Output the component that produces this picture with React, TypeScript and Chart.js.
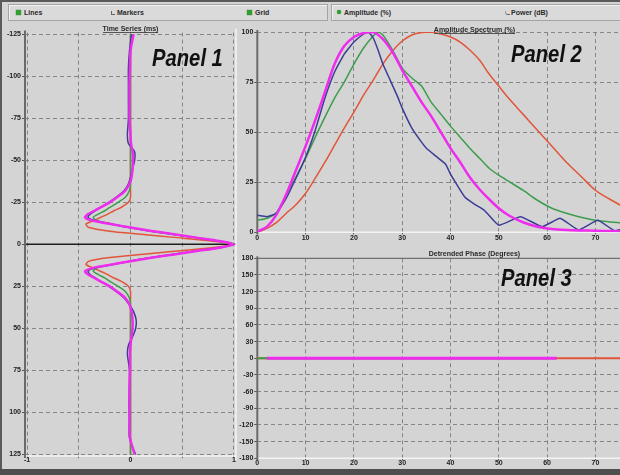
import React, { useEffect, useRef } from 'react';
import { Chart, registerables } from 'chart.js';

Chart.register(...registerables);

// ---------- Panel 1: time series (ms) ----------
const TIME_MS = [-125, -115, -105, -95, -85, -75, -70, -65, -60, -55, -50, -45, -40, -36, -32, -28, -25, -22, -20, -18, -16, -14, -12, -10, -8, -6, -4, -2, 0,
  2, 4, 6, 8, 10, 12, 14, 16, 18, 20, 22, 25, 28, 32, 36, 40, 45, 50, 55, 60, 65, 70, 75, 85, 95, 105, 115, 125];
const TS_MAGENTA = [0.03, 0.0, -0.005, -0.01, -0.01, -0.01, -0.005, 0.0, 0.005, 0.02, 0.025, 0.02, 0.01, -0.01, -0.05, -0.13, -0.2, -0.29, -0.35, -0.41, -0.44, -0.36, -0.18, 0.0, 0.2, 0.42, 0.64, 0.86, 1.0,
  0.86, 0.64, 0.42, 0.2, 0.0, -0.18, -0.36, -0.44, -0.41, -0.35, -0.29, -0.2, -0.13, -0.05, -0.01, 0.01, 0.02, 0.02, 0.01, 0.0, -0.005, -0.005, -0.005, -0.01, -0.01, -0.01, -0.005, 0.04];
const TS_BLUE = [0.01, -0.01, -0.02, -0.02, -0.02, -0.02, -0.025, -0.03, -0.02, 0.04, 0.04, 0.02, 0.0, -0.02, -0.06, -0.14, -0.21, -0.29, -0.34, -0.39, -0.41, -0.34, -0.18, -0.01, 0.19, 0.41, 0.63, 0.85, 1.0,
  0.85, 0.63, 0.41, 0.19, -0.01, -0.18, -0.34, -0.41, -0.39, -0.34, -0.29, -0.21, -0.14, -0.06, -0.01, 0.03, 0.055, 0.05, 0.02, -0.02, -0.03, -0.02, -0.01, -0.01, -0.015, -0.01, -0.01, 0.05];
const TS_GREEN = [0, 0, 0, 0, 0, 0, 0, 0, 0, 0, 0, 0, 0, 0, -0.01, -0.05, -0.12, -0.2, -0.25, -0.31, -0.36, -0.32, -0.17, -0.01, 0.18, 0.4, 0.63, 0.86, 1.0,
  0.86, 0.63, 0.4, 0.18, -0.01, -0.17, -0.32, -0.36, -0.31, -0.25, -0.2, -0.12, -0.05, -0.01, 0, 0, 0, 0, 0, 0, 0, 0, 0, 0, 0, 0, 0, 0];
const TS_RED = [0, 0, 0, 0, 0, 0, 0, 0, 0, 0, 0, 0, 0, 0, 0, 0, -0.02, -0.09, -0.16, -0.22, -0.29, -0.36, -0.43, -0.4, -0.22, 0.1, 0.45, 0.78, 1.0,
  0.78, 0.45, 0.1, -0.22, -0.4, -0.43, -0.36, -0.29, -0.22, -0.16, -0.09, -0.02, 0, 0, 0, 0, 0, 0, 0, 0, 0, 0, 0, 0, 0, 0, 0, 0];
const X1_TICKS = [-1, -0.5, 0, 0.5, 1];
const X1_LABELS = ['-1', '', '0', '', '1'];
const Y1_TICKS = [-125, -100, -75, -50, -25, 0, 25, 50, 75, 100, 125];
const Y1_LABELS = ['-125', '-100', '-75', '-50', '-25', '0', '25', '50', '75', '100', '125'];

// ---------- Panel 2: amplitude spectrum (%) ----------
const FREQ = [0, 2, 4, 6, 8, 10, 12, 14, 16, 18, 20, 22, 24, 26, 28, 30, 32, 34, 36, 38, 40, 42, 44, 46, 48, 50, 52, 55, 58, 61, 64, 67, 70, 73, 76, 80, 85, 90];
const AMP_MAGENTA = [0.3, 2.8, 9, 19, 31, 43, 56, 70, 84, 93, 97.5, 99.5, 100, 96.5, 90, 81, 73, 65, 58, 50, 42, 35, 27.5, 21.5, 16.5, 12, 8.5, 5, 2.8, 1.6, 1.1, 0.9, 0.8, 0.6, 0.5, 0.3, 0.2, 0.2];
const FREQ_GREEN = [0, 2, 4, 6, 8, 10, 12, 14, 16, 18, 20, 22, 24, 25, 26, 28, 30, 32, 34, 36, 38, 40, 42, 44, 46, 48, 50, 52, 55, 58, 61, 64, 67, 70, 73, 76, 80, 85, 90];
const AMP_GREEN = [6, 7, 10, 18.5, 27.5, 37, 47.5, 57.5, 67, 75, 84, 92, 98, 100, 98.5, 91, 82, 77, 73, 65, 59, 53, 47.5, 42, 37, 32, 28.5, 25.5, 21, 16, 12, 9.5, 7.5, 6, 5.2, 4.5, 3.5, 2.7, 2];
const AMP_RED = [0, 2, 5, 9.5, 13.8, 19.5, 27, 35, 43.5, 52, 60, 68.5, 76, 84, 90.5, 95.5, 98.5, 99.8, 100, 99, 97.5, 95, 91, 86, 79, 73, 67, 59, 51, 43, 35, 28, 21, 16.5, 12.5, 8, 5, 3];
const FREQ_BLUE = [0, 2, 4, 6, 8, 10, 12, 14, 16, 18, 20, 22, 23, 24, 25, 26, 27.5, 29, 30, 32, 34, 35, 37, 39, 40, 41, 43, 45, 47, 50, 54.5, 59, 62.7, 66.5, 70.5, 74, 78, 82, 86, 90];
const AMP_BLUE = [8.5, 7.8, 9.5, 17, 27, 37.5, 51, 67, 80, 89, 95, 99, 100, 97, 91, 84, 76, 68, 62, 52, 45, 42, 38, 34, 29, 25, 17.5, 14, 11, 3.5, 7.8, 2.8, 7, 1.2, 6, 0.8, 3, 1, 2.5, 1];
const X2_TICKS = [0, 10, 20, 30, 40, 50, 60, 70, 80, 90];
const X2_LABELS = ['0', '10', '20', '30', '40', '50', '60', '70', '80', '90'];
const Y2_TICKS = [0, 25, 50, 75, 100];
const Y2_LABELS = ['0', '25', '50', '75', '100'];

// ---------- Panel 3: detrended phase (degrees) ----------
const PH_FREQ_MAGENTA = [2, 62];
const PH_MAGENTA = [0, 0];
const PH_FREQ_BLUE = [2, 60];
const PH_BLUE = [0, 0];
const PH_FREQ_GREEN = [0, 60];
const PH_GREEN = [0, 0];
const PH_FREQ_RED = [0, 90];
const PH_RED = [0, 0];
const Y3_TICKS = [-180, -150, -120, -90, -60, -30, 0, 30, 60, 90, 120, 150, 180];
const Y3_LABELS = ['-180', '-150', '-120', '-90', '-60', '-30', '0', '30', '60', '90', '120', '150', '180'];

const C_MAGENTA = '#ee2cee';
const C_BLUE = '#3c3c96';
const C_GREEN = '#3d9d4d';
const C_RED = '#e2553a';
const GRID = '#858585';
const FONT = 'Liberation Sans, Arial, sans-serif';

function pts(xs: number[], ys: number[]) {
  return xs.map((x, i) => ({ x, y: ys[i] }));
}

function framePlugin(opts: any) {
  return {
    id: 'frame',
    beforeDatasetsDraw(chart: any) {
      const { ctx, chartArea: a } = chart;
      const line = (x1: number, y1: number, x2: number, y2: number, c: string, w: number) => {
        ctx.save();
        ctx.strokeStyle = c;
        ctx.lineWidth = w;
        ctx.setLineDash([]);
        ctx.beginPath();
        ctx.moveTo(x1, y1);
        ctx.lineTo(x2, y2);
        ctx.stroke();
        ctx.restore();
      };
      if (opts.zeroY !== undefined) {
        const y = chart.scales.y.getPixelForValue(opts.zeroY);
        line(a.left, y, a.right, y, '#1e1e1e', 1.5);
      }
      if (opts.top) line(a.left, a.top, a.right, a.top, opts.top, 1.2);
      if (opts.bottom) line(a.left, a.bottom, a.right, a.bottom, opts.bottom, 1.5);
      if (opts.right) line(a.right, a.top - 4, a.right, a.bottom + 4, opts.right, 1.5);
      if (opts.left) line(a.left, a.top - 2, a.left, a.bottom + 2, opts.left, 2);
    },
  };
}

function makeChart(canvas: HTMLCanvasElement, p: any) {
  const font = { family: FONT, size: 7, weight: 'bold' as const };
  return new Chart(canvas, {
    type: 'scatter',
    data: { datasets: p.datasets },
    plugins: [framePlugin(p.frame)],
    options: {
      animation: false,
      responsive: false,
      events: [],
      layout: { padding: { top: p.padTop, right: p.padRight, left: 0, bottom: 0 } },
      plugins: { legend: { display: false }, tooltip: { enabled: false }, title: { display: false } },
      elements: { point: { radius: 0 } },
      scales: {
        x: {
          type: 'linear',
          min: p.xMin,
          max: p.xMax,
          afterBuildTicks: (s: any) => { s.ticks = p.xTicks.map((v: number) => ({ value: v })); },
          afterFit: (s: any) => { s.height = p.xAxisH; },
          ticks: {
            autoSkip: false,
            maxRotation: 0,
            padding: p.xPad,
            font,
            color: '#222',
            callback: (_v: any, i: number) => p.xLabels[i],
          },
          grid: { color: GRID, lineWidth: 1, tickLength: 2, tickColor: '#555', drawTicks: true },
          border: { display: false, dash: [4, 3] },
        },
        y: {
          type: 'linear',
          min: p.yMin,
          max: p.yMax,
          reverse: !!p.reverseY,
          afterBuildTicks: (s: any) => { s.ticks = p.yTicks.map((v: number) => ({ value: v })); },
          afterFit: (s: any) => { s.width = p.yAxisW; },
          ticks: {
            autoSkip: false,
            padding: 1,
            font,
            color: '#222',
            callback: (_v: any, i: number) => p.yLabels[i],
          },
          grid: { color: GRID, lineWidth: 1, tickLength: 3, tickColor: '#555', drawTicks: true },
          border: { display: false, dash: [4, 3] },
        },
      },
    } as any,
  });
}

function ds(data: any[], color: string, width: number, tension: number) {
  return { data, borderColor: color, backgroundColor: color, borderWidth: width, showLine: true, pointRadius: 0, tension, fill: false };
}

const txt: React.CSSProperties = { position: 'absolute', fontFamily: FONT, fontSize: 7, fontWeight: 'bold', color: '#2a2a2a', lineHeight: '9px', whiteSpace: 'nowrap' };
const panelTxt: React.CSSProperties = { position: 'absolute', fontFamily: FONT, fontSize: 23, fontWeight: 'bold', fontStyle: 'italic', color: '#111', lineHeight: '23px', transform: 'scaleX(0.88)', transformOrigin: 'left top', whiteSpace: 'nowrap' };

export default function App() {
  const c1 = useRef<HTMLCanvasElement>(null);
  const c2 = useRef<HTMLCanvasElement>(null);
  const c3 = useRef<HTMLCanvasElement>(null);

  useEffect(() => {
    const charts: Chart[] = [];
    charts.push(makeChart(c1.current!, {
      datasets: [
        ds(pts(TS_MAGENTA, TIME_MS), C_MAGENTA, 2.5, 0.3),
        ds(pts(TS_BLUE, TIME_MS), C_BLUE, 1.5, 0.3),
        ds(pts(TS_GREEN, TIME_MS), C_GREEN, 1.5, 0.3),
        ds(pts(TS_RED, TIME_MS), C_RED, 1.5, 0.3),
      ],
      xMin: -1.02, xMax: 1.02, yMin: -126, yMax: 126, reverseY: true,
      xTicks: X1_TICKS, xLabels: X1_LABELS, yTicks: Y1_TICKS, yLabels: Y1_LABELS,
      yAxisW: 25, xAxisH: 11.9, padTop: 8.6, padRight: 4, xPad: -2,
      frame: { zeroY: 0, left: '#6a6a6a', bottom: '#f4f4f4', right: '#f4f4f4' },
    }));
    charts.push(makeChart(c2.current!, {
      datasets: [
        ds(pts(FREQ, AMP_MAGENTA), C_MAGENTA, 2.5, 0.3),
        ds(pts(FREQ_BLUE, AMP_BLUE), C_BLUE, 1.5, 0.12),
        ds(pts(FREQ_GREEN, AMP_GREEN), C_GREEN, 1.5, 0.25),
        ds(pts(FREQ, AMP_RED), C_RED, 1.5, 0.35),
      ],
      xMin: 0, xMax: 90, yMin: 0, yMax: 100,
      xTicks: X2_TICKS, xLabels: X2_LABELS, yTicks: Y2_TICKS, yLabels: Y2_LABELS,
      yAxisW: 19.3, xAxisH: 13.7, padTop: 8, padRight: 8, xPad: 0,
      frame: { left: '#6a6a6a', bottom: '#f4f4f4' },
    }));
    charts.push(makeChart(c3.current!, {
      datasets: [
        ds(pts(PH_FREQ_MAGENTA, PH_MAGENTA), C_MAGENTA, 3, 0),
        ds(pts(PH_FREQ_BLUE, PH_BLUE), C_BLUE, 1.5, 0),
        ds(pts(PH_FREQ_GREEN, PH_GREEN), C_GREEN, 2, 0),
        ds(pts(PH_FREQ_RED, PH_RED), C_RED, 2, 0),
      ],
      xMin: 0, xMax: 90, yMin: -180, yMax: 180,
      xTicks: X2_TICKS, xLabels: X2_LABELS, yTicks: Y3_TICKS, yLabels: Y3_LABELS,
      yAxisW: 19.3, xAxisH: 9.7, padTop: 12.3, padRight: 8, xPad: -1,
      frame: { left: '#6a6a6a', bottom: '#f4f4f4', top: '#707070' },
    }));
    return () => charts.forEach((c) => c.destroy());
  }, []);

  const box: React.CSSProperties = { position: 'absolute', top: 4, height: 17, boxSizing: 'border-box', border: '1px solid #a4a4a4', background: '#dadada', boxShadow: 'inset 1px 1px 0 #f2f2f2' };
  const greenBox: React.CSSProperties = { position: 'absolute', width: 5, height: 5, background: '#2f9f2f', boxShadow: '0 0 1px #1a6a1a' };

  return (
    <div style={{ position: 'fixed', left: 0, top: 0, width: 620, height: 475, overflow: 'hidden', background: '#d4d4d4' }}>
      {/* toolbar */}
      <div style={{ ...box, left: 8, width: 320 }} />
      <div style={{ ...box, left: 331, width: 300 }} />
      <div style={{ ...greenBox, left: 16, top: 10 }} />
      <div style={{ ...txt, left: 24, top: 8 }}>Lines</div>
      <div style={{ position: 'absolute', left: 111, top: 11, width: 3, height: 3, borderLeft: '1px solid #666', borderBottom: '1px solid #666' }} />
      <div style={{ ...txt, left: 117, top: 8 }}>Markers</div>
      <div style={{ ...greenBox, left: 247, top: 10 }} />
      <div style={{ ...txt, left: 255, top: 8 }}>Grid</div>
      <div style={{ ...greenBox, left: 337, top: 10, width: 4, height: 4, borderRadius: 2 }} />
      <div style={{ ...txt, left: 344, top: 8 }}>Amplitude (%)</div>
      <div style={{ position: 'absolute', left: 505, top: 11, width: 4, height: 3, borderBottom: '1px solid #666', borderLeft: '1px solid #999', borderRadius: '0 0 0 3px' }} />
      <div style={{ ...txt, left: 511, top: 8 }}>Power (dB)</div>

      {/* charts */}
      <canvas ref={c1} width={240} height={444} style={{ position: 'absolute', left: 0, top: 24, width: 240, height: 444 }} />
      <canvas ref={c2} width={462} height={222} style={{ position: 'absolute', left: 238, top: 24, width: 462, height: 222 }} />
      <canvas ref={c3} width={462} height={222} style={{ position: 'absolute', left: 238, top: 246, width: 462, height: 222 }} />

      {/* titles */}
      <div style={{ ...txt, left: 25, width: 211, top: 24, textAlign: 'center' }}>
        <span style={{ borderBottom: '1px solid #555' }}>Time Series (ms)</span>
      </div>
      <div style={{ ...txt, left: 257, width: 435, top: 25, textAlign: 'center' }}>
        <span style={{ borderBottom: '1px solid #555' }}>Amplitude Spectrum (%)</span>
      </div>
      <div style={{ ...txt, left: 257, width: 435, top: 249, textAlign: 'center' }}>Detrended Phase (Degrees)</div>

      {/* panel labels */}
      <div style={{ ...panelTxt, left: 152, top: 47 }}>Panel 1</div>
      <div style={{ ...panelTxt, left: 511, top: 43 }}>Panel 2</div>
      <div style={{ ...panelTxt, left: 501, top: 267 }}>Panel 3</div>

      {/* outer frame */}
      <div style={{ position: 'absolute', left: 0, top: 0, width: 620, height: 2, background: '#5a5a5a' }} />
      <div style={{ position: 'absolute', left: 0, top: 0, width: 2, height: 475, background: '#5a5a5a' }} />
      <div style={{ position: 'absolute', left: 0, top: 469, width: 620, height: 6, background: '#4e4e4e' }} />
    </div>
  );
}
